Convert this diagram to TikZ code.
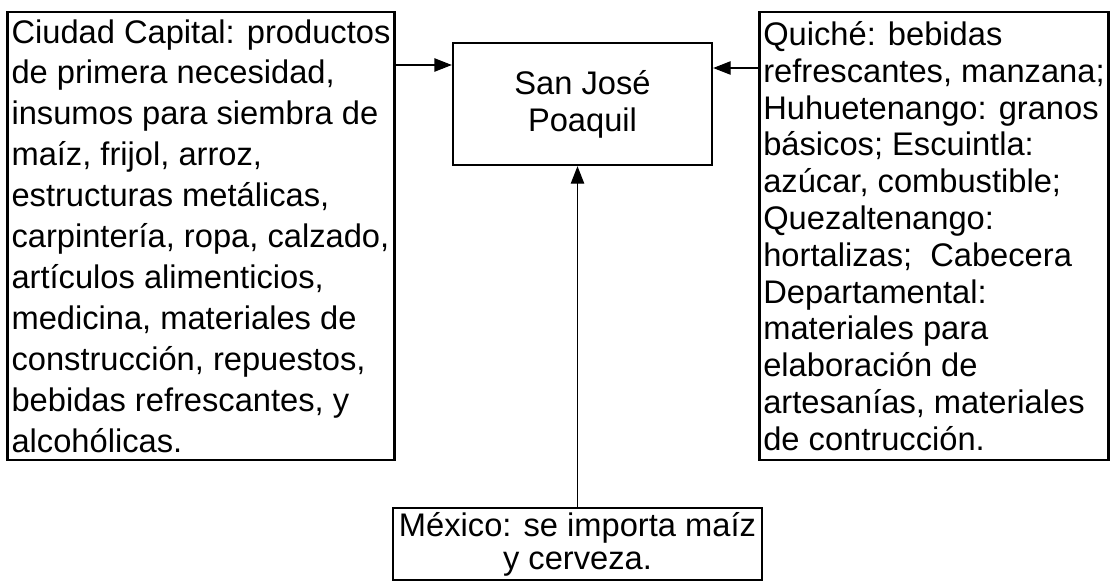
\documentclass[tikz,border=0pt]{standalone}
\usepackage{fontspec}
\setmainfont{Liberation Sans}
\usetikzlibrary{arrows.meta, positioning}

\begin{document}
\begin{tikzpicture}[x=0.75pt, y=-0.75pt,
    caja/.style={draw, line width=1.8pt, inner xsep=3pt, inner ysep=1pt},
    flecha/.style={line width=0.8pt, -{Triangle[length=13pt, width=10pt]}}]
    \useasboundingbox (0,0) rectangle (1113,582);

    % origen de los productos
    \node[caja, minimum width=288pt, minimum height=336pt, align=left,
          font=\fontsize{24.5}{30.7}\selectfont] (ciudad) at (201,236)
        {Ciudad Capital: productos\\ de primera necesidad,\\ insumos para siembra de\\ ma\'iz, frijol, arroz,\\
         estructuras met\'alicas,\\ carpinter\'ia, ropa, calzado,\\ art\'iculos alimenticios,\\
         medicina, materiales de\\ construcci\'on, repuestos,\\ bebidas refrescantes, y\\ alcoh\'olicas.};

    \node[caja, minimum width=194.25pt, minimum height=91.5pt, align=center,
          font=\fontsize{24.5}{27.75}\selectfont] (centro) at (582.5,104) {San Jos\'e\\ Poaquil};

    \node[caja, minimum width=261pt, minimum height=336pt, align=left,
          font=\fontsize{24.5}{27.6}\selectfont] (quiche) at (934,236)
        {Quich\'e: bebidas\\ refrescantes, manzana;\\ Huhuetenango: granos\\ b\'asicos; Escuintla:\\
         az\'ucar, combustible;\\ Quezaltenango:\\ hortalizas;\ \ Cabecera\\ Departamental:\\
         materiales para\\ elaboraci\'on de\\ artesan\'ias, materiales\\ de contrucci\'on.};

    \node[caja, minimum width=276.75pt, minimum height=54pt] (mexico) at (577.5,544) {};
    \node[align=center, inner sep=0pt, font=\fontsize{24.5}{24.5}\selectfont]
        (mexicotxt) at ([yshift=-0.5pt]mexico.center) {M\'exico: se importa ma\'iz\\ y cerveza.};

    % flechas
    \draw[flecha] (ciudad.east |- 0,65) -- (centro.west |- 0,65);
    \draw[flecha] (quiche.west |- 0,68) -- (centro.east |- 0,68);
    \draw[flecha] (mexico.north) -- (mexico.north |- centro.south);

\end{tikzpicture}
\end{document}
